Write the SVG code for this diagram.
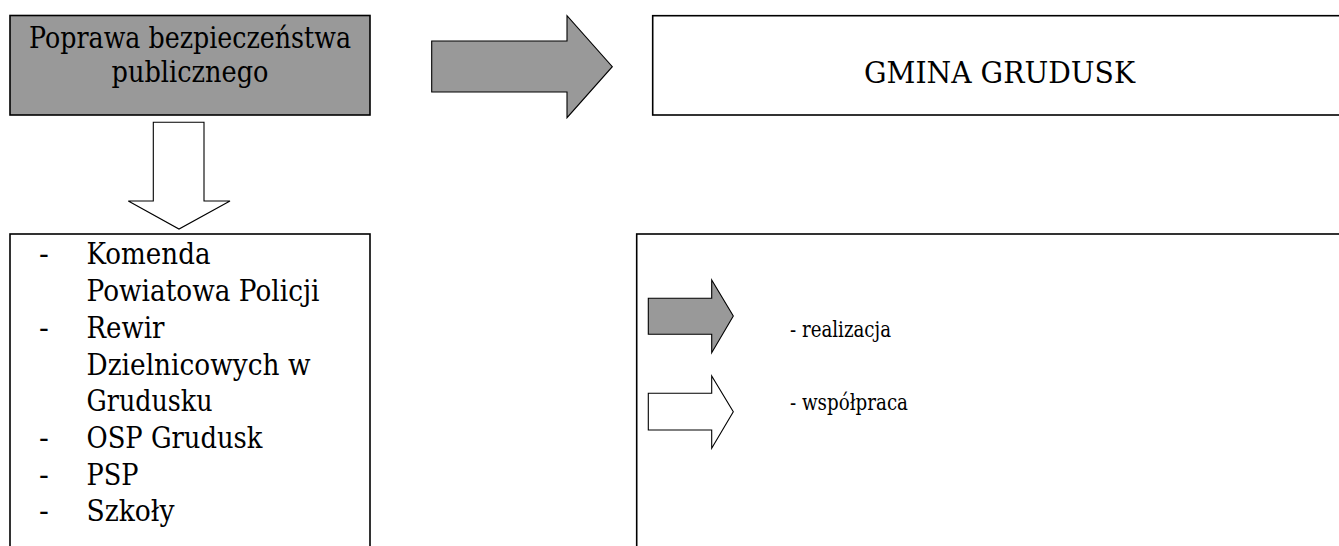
<svg xmlns="http://www.w3.org/2000/svg" width="1339" height="546" viewBox="0 0 1339 546">
<style>
.t{font-size:29px}
.s{font-size:22px}
.box{stroke:#000;stroke-width:1.6}
.arr{stroke:#000;stroke-width:1.1;stroke-linejoin:miter}
</style>
<rect width="1339" height="546" fill="#fff"/>
<g font-family="DejaVu Serif, Liberation Serif, Times New Roman, serif" fill="#000" lengthAdjust="spacingAndGlyphs">
<g id="node-poprawa">
<rect class="box" x="10" y="15.5" width="360" height="99.5" fill="#999"/>
<text class="t" x="190" y="47.5" text-anchor="middle" textLength="322" lengthAdjust="spacingAndGlyphs">Poprawa bezpieczeństwa</text>
<text class="t" x="190" y="82" text-anchor="middle" textLength="157" lengthAdjust="spacingAndGlyphs">publicznego</text>
</g>
<g id="node-gmina">
<rect class="box" x="652.7" y="15.7" width="700" height="99.3" fill="#fff"/>
<text class="t" x="864" y="82.7" textLength="271" lengthAdjust="spacingAndGlyphs">GMINA GRUDUSK</text>
</g>
<g id="node-lista">
<rect class="box" x="10" y="234" width="360" height="330" fill="#fff"/>
<text class="t" x="39" y="264">-</text><text class="t" x="86.5" y="264" textLength="124" lengthAdjust="spacingAndGlyphs">Komenda</text>
<text class="t" x="86.5" y="301" textLength="233" lengthAdjust="spacingAndGlyphs">Powiatowa Policji</text>
<text class="t" x="39" y="338">-</text><text class="t" x="86.5" y="338" textLength="78" lengthAdjust="spacingAndGlyphs">Rewir</text>
<text class="t" x="86.5" y="374.5" textLength="224" lengthAdjust="spacingAndGlyphs">Dzielnicowych w</text>
<text class="t" x="86.5" y="411" textLength="126" lengthAdjust="spacingAndGlyphs">Grudusku</text>
<text class="t" x="39" y="448">-</text><text class="t" x="86.5" y="448" textLength="176" lengthAdjust="spacingAndGlyphs">OSP Grudusk</text>
<text class="t" x="39" y="484.5">-</text><text class="t" x="86.5" y="484.5" textLength="52" lengthAdjust="spacingAndGlyphs">PSP</text>
<text class="t" x="39" y="521">-</text><text class="t" x="86.5" y="521" textLength="88" lengthAdjust="spacingAndGlyphs">Szkoły</text>
</g>
<g id="node-legenda">
<rect class="box" x="636.7" y="234" width="720" height="330" fill="#fff"/>
<polygon class="arr" fill="#999" points="648.3,298.3 711.7,298.3 711.7,280 733.3,316 711.7,352.7 711.7,334.3 648.3,334.3"/>
<text class="s" x="790" y="336.7" textLength="101" lengthAdjust="spacingAndGlyphs">- realizacja</text>
<polygon class="arr" fill="#fff" points="648.3,393.3 711.7,393.3 711.7,376 733.3,411.7 711.7,448.3 711.7,430 648.3,430"/>
<text class="s" x="790" y="410" textLength="118" lengthAdjust="spacingAndGlyphs">- współpraca</text>
</g>
</g>
<g id="connectors">
<polygon class="arr" fill="#999" points="431.7,41 567,41 567,15.7 612.3,66.7 567,117.7 567,92 431.7,92"/>
<polygon class="arr" fill="#fff" points="153.3,122.3 204,122.3 204,201 230,201 179,229 128.3,201 153.3,201"/>
</g>
</svg>
